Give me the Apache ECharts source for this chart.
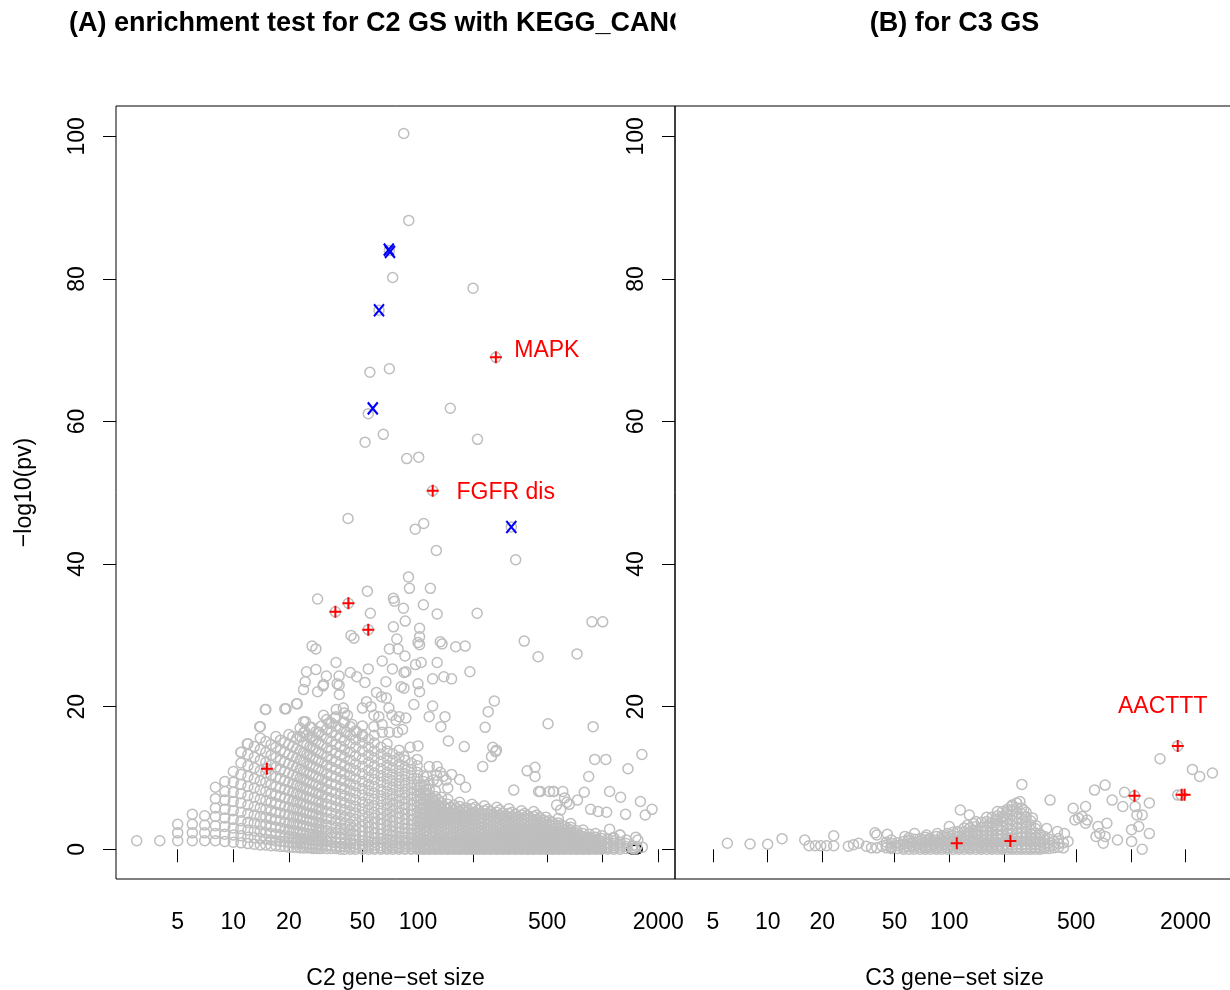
<!DOCTYPE html>
<html><head><meta charset="utf-8">
<script src="https://cdn.jsdelivr.net/npm/echarts@6/dist/echarts.min.js"></script>
<style>html,body{margin:0;padding:0;background:#fff}#c{width:1230px;height:990px}</style>
</head><body><div id="c"></div>
<script>
// ---------- data ----------
const xTicks = [5, 10, 20, 50, 100, 200, 500, 1000, 2000];
const xTickLabels = [5, 10, 20, 50, 100, 500, 2000];
const yTicks = [0, 20, 40, 60, 80, 100];
const titleA = '(A) enrichment test for C2 GS with KEGG_CANCER';
const titleB = '(B) for C3 GS';
const xNameA = 'C2 gene\u2212set size';
const xNameB = 'C3 gene\u2212set size';
const yName = '\u2212log10(pv)';
const labelTexts = ['MAPK', 'FGFR dis', 'AACTTT'];

// C2 gene sets: [set size, [-log10 pv values at that size]]
const c2Columns = [
[3,[1.2]],[4,[1.2]],
[5,[1.2,2.3,3.5]],
[6,[1.2,2.3,3.5,4.9]],
[7,[1.2,2.3,3.4,4.7]],
[8,[1.2,2.2,3.3,4.6,5.8,7.1,8.7]],
[9,[1.1,2.1,3.2,4.4,5.6,6.9,8.1,9.5]],
[10,[1.0,2.0,3.0,4.2,5.4,6.7,8.0,9.4,10.9]],
[11,[0.9,1.9,2.9,4.0,5.2,6.5,7.8,9.1,10.5,12.1,13.6]],
[12,[0.8,1.7,2.7,3.8,5.0,6.2,7.5,8.8,10.2,11.7,13.3,14.8]],
[13,[0.7,1.6,2.6,3.7,4.8,6.0,7.3,8.6,9.9,11.4,12.9,14.4]],
[14,[0.6,1.5,2.5,3.5,4.6,5.8,7.0,8.3,9.6,11.0,12.5,14.0,15.6,17.2]],
[15,[0.6,1.4,2.3,3.4,4.5,5.6,6.8,8.1,9.4,10.7,12.2,13.6,15.1,19.6]],
[16,[0.5,1.3,2.2,3.2,4.3,5.4,6.6,7.8,9.1,10.4,11.8,13.2,14.7]],
[17,[0.5,1.2,2.1,3.1,4.1,5.2,6.4,7.6,8.8,10.1,11.5,12.9,14.3,15.8]],
[18,[0.4,1.1,2.0,3.0,4.0,5.1,6.2,7.4,8.6,9.9,11.2,12.5,13.9,15.3]],
[19,[0.4,1.1,1.9,2.8,3.8,4.9,6.0,7.2,8.4,9.6,10.9,12.2,13.6,15.0,19.7]],
[20,[0.3,1.0,1.8,2.7,3.7,4.8,5.9,7.0,8.2,9.4,10.7,12.0,13.3,14.7,16.1]],
[21,[0.3,0.9,1.7,2.6,3.6,4.6,5.7,6.8,8.0,9.2,10.4,11.7,13.0,14.4,15.8]],
[22,[0.3,0.9,1.6,2.5,3.5,4.5,5.6,6.7,7.8,9.0,10.2,11.5,12.8,14.1,15.5,20.4]],
[23,[0.2,0.8,1.5,2.4,3.4,4.4,5.4,6.5,7.6,8.8,10.0,11.2,12.5,13.8,15.8,17.0]],
[24,[0.2,0.8,1.5,2.3,3.3,4.3,5.3,6.4,7.5,8.6,9.8,11.0,12.3,13.6,14.9,16.3,17.9]],
[25,[0.2,0.7,1.4,2.2,3.2,4.1,5.1,6.2,7.3,8.4,9.6,10.8,12.0,13.3,14.6,16.0]],
[26,[0.2,0.7,1.3,2.1,3.0,4.0,5.0,6.0,7.1,8.2,9.4,10.6,11.8,13.1,14.4,15.7,17.1]],
[27,[0.1,0.6,1.3,2.1,2.9,3.9,4.9,5.9,7.0,8.1,9.2,10.4,11.6,12.8,14.1,15.4]],
[28,[0.1,0.6,1.2,2.0,2.9,3.8,4.8,5.8,6.8,7.9,9.0,10.2,11.4,12.6,13.9,15.2,16.5]],
[29,[0.1,0.6,1.2,1.9,2.8,3.7,4.6,5.6,6.7,7.8,8.9,10.0,11.2,12.4,13.6,14.9,16.4]],
[30,[0.1,0.5,1.1,1.9,2.7,3.6,4.5,5.5,6.5,7.6,8.7,9.8,11.0,12.2,13.4,14.7,16.0,17.3]],
[32,[0.1,0.5,1.1,1.8,2.6,3.4,4.3,5.3,6.3,7.3,8.4,9.5,10.6,11.8,13.0,14.2,15.5,16.8,18.2]],
[34,[0.1,0.5,1.0,1.7,2.4,3.3,4.2,5.1,6.1,7.1,8.1,9.2,10.3,11.5,12.6,13.9,15.1,16.4,17.7]],
[36,[0.1,0.4,0.9,1.6,2.3,3.1,4.0,4.9,5.9,6.9,7.9,9.0,10.1,11.2,12.3,13.5,14.7,16.0,17.3,18.6]],
[38,[0.0,0.4,0.9,1.5,2.2,3.0,3.9,4.8,5.7,6.7,7.7,8.7,9.8,10.9,12.0,13.2,14.4,15.6,16.9]],
[40,[0.0,0.4,0.8,1.4,2.1,2.9,3.7,4.6,5.5,6.5,7.5,8.5,9.6,10.6,11.7,12.9,14.0,15.2,16.5,17.8,19.1]],
[43,[0.0,0.3,0.8,1.3,2.0,2.7,3.5,4.4,5.3,6.2,7.2,8.2,9.2,10.3,11.4,12.5,13.6,14.8,16.0,17.2]],
[46,[0.0,0.3,0.7,1.3,1.9,2.6,3.4,4.2,5.1,6.0,6.9,7.9,8.9,9.9,11.0,12.0,13.1,14.3,15.4,16.6]],
[50,[0.0,0.3,0.7,1.2,1.8,2.5,3.2,4.0,4.8,5.7,6.6,7.6,8.5,9.5,10.6,11.6,12.7,13.8,14.9,16.1,17.3]],
[54,[0.0,0.3,0.6,1.1,1.7,2.4,3.1,3.8,4.6,5.5,6.3,7.2,8.2,9.1,10.1,11.1,12.2,13.2,14.3,15.4]],
[58,[0.0,0.2,0.6,1.0,1.6,2.2,2.9,3.7,4.4,5.2,6.1,7.0,7.9,8.8,9.8,10.7,11.7,12.8,13.8,14.9,16.0]],
[63,[0.0,0.2,0.5,1.0,1.5,2.1,2.8,3.5,4.2,5.0,5.8,6.7,7.5,8.4,9.4,10.3,11.3,12.3,13.3,14.3]],
[68,[0.0,0.2,0.5,0.9,1.4,2.0,2.6,3.3,4.0,4.8,5.6,6.4,7.2,8.1,9.0,9.9,10.8,11.8,12.8,13.8,14.8]],
[73,[0.0,0.2,0.5,0.9,1.3,1.9,2.5,3.2,3.9,4.6,5.4,6.2,7.0,7.8,8.7,9.6,10.5,11.4,12.4,13.4]],
[79,[0.0,0.2,0.4,0.8,1.3,1.8,2.4,3.0,3.7,4.4,5.1,5.9,6.7,7.5,8.3,9.2,10.1,11.0,11.9,12.9,13.9]],
[85,[0.0,0.1,0.4,0.8,1.2,1.7,2.3,2.9,3.5,4.2,4.9,5.7,6.4,7.2,8.0,8.9,9.7,10.6,11.5,12.5]],
[92,[0.0,0.1,0.4,0.7,1.1,1.6,2.2,2.8,3.4,4.1,4.8,5.5,6.2,7.0,7.8,8.6,9.4,10.3,11.2,12.1]],
[99,[0.0,0.1,0.3,0.7,1.1,1.5,2.1,2.6,3.2,3.9,4.5,5.2,5.9,6.7,7.4,8.2,9.0,9.9,10.8,11.7,12.6]],
[103,[0.05,0.2,0.5,0.85,1.3,1.75,2.3,2.85,3.5,4.2,4.9,5.6,6.3,7.1,7.9,8.8]],
[107,[0.0,0.1,0.3,0.6,1.0,1.5,2.0,2.5,3.1,3.7,4.3,5.0,5.7,6.4,7.1,7.9,8.7,9.5,10.3]],
[111,[0.05,0.2,0.45,0.8,1.2,1.7,2.2,2.7,3.3,4.0,4.6,5.3,6.0,6.8,7.6,8.4]],
[115,[0.0,0.1,0.3,0.6,1.0,1.4,1.9,2.4,3.0,3.6,4.2,4.8,5.5,6.2,6.9,7.6,8.4,9.2]],
[120,[0.05,0.2,0.45,0.75,1.15,1.6,2.1,2.6,3.2,3.8,4.4,5.1,5.8,6.5,7.2]],
[124,[0.0,0.1,0.3,0.6,0.9,1.3,1.8,2.3,2.9,3.4,4.0,4.7,5.3,6.0,6.7,7.4,8.2]],
[129,[0.05,0.2,0.4,0.7,1.1,1.5,2.0,2.5,3.0,3.6,4.2,4.8,5.5,6.2,6.9]],
[134,[0.0,0.1,0.3,0.5,0.9,1.3,1.7,2.2,2.7,3.3,3.9,4.5,5.1,5.8,6.5,7.3]],
[139,[0.05,0.2,0.4,0.7,1.05,1.45,1.9,2.4,2.9,3.5,4.1,4.7,5.3,6.0]],
[145,[0.0,0.1,0.2,0.5,0.8,1.2,1.7,2.2,2.7,3.2,3.8,4.4,5.0,5.6,6.3,7.0]],
[150,[0.05,0.15,0.35,0.65,1.0,1.4,1.85,2.35,2.85,3.4,4.0,4.6,5.2,5.9]],
[156,[0.0,0.1,0.2,0.5,0.8,1.2,1.6,2.1,2.6,3.1,3.7,4.2,4.8,5.5,6.2]],
[162,[0.05,0.15,0.35,0.65,1.0,1.35,1.8,2.3,2.8,3.3,3.9,4.5,5.1,5.7]],
[168,[0.0,0.1,0.2,0.5,0.8,1.1,1.5,2.0,2.5,3.0,3.5,4.1,4.7,5.3,6.0,6.6]],
[175,[0.05,0.15,0.35,0.6,0.95,1.3,1.75,2.2,2.7,3.2,3.8,4.3,4.9,5.6]],
[182,[0.0,0.1,0.2,0.4,0.7,1.1,1.5,1.9,2.4,2.9,3.4,4.0,4.6,5.2,5.8]],
[189,[0.05,0.15,0.35,0.6,0.9,1.3,1.7,2.15,2.6,3.15,3.7,4.2,4.8,5.4]],
[196,[0.0,0.1,0.2,0.4,0.7,1.0,1.4,1.9,2.3,2.8,3.3,3.9,4.4,5.0,5.7,6.3]],
[204,[0.05,0.15,0.3,0.55,0.85,1.2,1.6,2.05,2.55,3.05,3.6,4.1,4.65,5.2,5.9]],
[212,[0.0,0.1,0.2,0.4,0.7,1.0,1.4,1.8,2.3,2.8,3.3,3.8,4.3,4.9,5.5]],
[220,[0.05,0.15,0.3,0.55,0.85,1.2,1.6,2.0,2.5,3.0,3.5,4.0,4.55,5.1]],
[229,[0.0,0.1,0.2,0.4,0.7,1.0,1.3,1.7,2.2,2.7,3.2,3.7,4.2,4.8,5.4,6.1]],
[238,[0.05,0.15,0.3,0.55,0.8,1.15,1.5,1.95,2.4,2.85,3.35,3.85,4.4,5.0,5.6]],
[247,[0.0,0.1,0.2,0.4,0.6,0.9,1.3,1.7,2.1,2.6,3.1,3.6,4.1,4.7,5.3]],
[257,[0.05,0.15,0.3,0.5,0.8,1.1,1.5,1.9,2.3,2.8,3.25,3.75,4.3,4.9]],
[267,[0.0,0.1,0.2,0.4,0.6,0.9,1.3,1.7,2.1,2.5,3.0,3.5,4.0,4.6,5.2,5.9]],
[277,[0.05,0.15,0.3,0.5,0.75,1.1,1.45,1.85,2.25,2.7,3.2,3.7,4.2,4.8,5.5]],
[288,[0.0,0.1,0.2,0.3,0.6,0.9,1.2,1.6,2.0,2.5,2.9,3.4,3.9,4.5,5.1]],
[299,[0.05,0.15,0.3,0.5,0.75,1.05,1.4,1.8,2.2,2.65,3.15,3.6,4.15,4.7]],
[311,[0.0,0.1,0.2,0.3,0.6,0.9,1.2,1.6,2.0,2.4,2.9,3.4,3.9,4.4,5.0,5.7]],
[323,[0.05,0.15,0.3,0.5,0.75,1.05,1.4,1.75,2.15,2.6,3.05,3.55,4.05,4.6,5.2]],
[336,[0.0,0.1,0.2,0.3,0.6,0.8,1.2,1.5,1.9,2.4,2.8,3.3,3.8,4.3,4.9]],
[349,[0.05,0.15,0.3,0.45,0.7,1.0,1.35,1.7,2.1,2.55,3.0,3.45,3.95,4.5]],
[363,[0.0,0.1,0.2,0.3,0.5,0.8,1.1,1.5,1.9,2.3,2.8,3.2,3.7,4.2,4.8,5.4]],
[377,[0.05,0.15,0.3,0.45,0.7,1.0,1.3,1.7,2.1,2.5,2.95,3.4,3.9,4.45,5.0]],
[392,[0.0,0.1,0.2,0.3,0.5,0.8,1.1,1.5,1.8,2.3,2.7,3.1,3.6,4.1,4.7]],
[407,[0.05,0.15,0.3,0.45,0.7,0.95,1.3,1.65,2.05,2.45,2.9,3.35,3.8,4.35]],
[423,[0.0,0.1,0.2,0.3,0.5,0.8,1.1,1.4,1.8,2.2,2.6,3.1,3.5,4.0,4.6,5.3]],
[440,[0.05,0.15,0.3,0.45,0.65,0.95,1.25,1.6,2.0,2.4,2.8,3.25,3.7,4.2,4.8]],
[457,[0.0,0.1,0.2,0.3,0.5,0.8,1.0,1.4,1.7,2.1,2.5,3.0,3.4,3.9,4.4]],
[475,[0.05,0.15,0.3,0.45,0.65,0.9,1.2,1.55,1.9,2.3,2.7,3.15,3.6,4.1]],
[493,[0.0,0.1,0.2,0.3,0.5,0.7,1.0,1.3,1.7,2.1,2.5,2.9,3.4,3.9,4.5]],
[513,[0.05,0.15,0.3,0.45,0.65,0.9,1.2,1.5,1.85,2.2,2.6,3.05,3.5,4.0]],
[533,[0.0,0.1,0.2,0.3,0.5,0.7,1.0,1.3,1.6,2.0,2.4,2.8,3.3,3.8]],
[554,[0.05,0.15,0.3,0.45,0.65,0.9,1.15,1.45,1.8,2.2,2.6,3.0,3.45]],
[575,[0.0,0.1,0.2,0.3,0.5,0.7,1.0,1.3,1.6,2.0,2.4,2.8,3.2,3.7,4.3]],
[598,[0.05,0.15,0.3,0.45,0.65,0.85,1.1,1.4,1.75,2.15,2.5,2.9,3.4]],
[621,[0.0,0.1,0.2,0.3,0.5,0.7,0.9,1.2,1.6,1.9,2.3,2.7,3.2]],
[646,[0.05,0.15,0.3,0.45,0.65,0.85,1.1,1.4,1.7,2.1,2.5,2.9]],
[671,[0.0,0.1,0.2,0.3,0.5,0.7,0.9,1.2,1.5,1.9,2.3,2.7,3.1,3.6]],
[698,[0.05,0.15,0.3,0.45,0.6,0.8,1.05,1.35,1.65,2.0,2.4]],
[725,[0.0,0.1,0.2,0.3,0.5,0.7,0.9,1.2,1.5,1.8,2.2,2.6]],
[754,[0.05,0.15,0.3,0.45,0.65,0.9,1.2,1.5,1.9]],
[783,[0.0,0.1,0.2,0.4,0.6,0.8,1.1,1.4,1.8,2.2,2.7]],
[814,[0.05,0.15,0.3,0.5,0.7,0.95,1.25,1.6]],
[845,[0.0,0.1,0.2,0.4,0.6,0.8,1.1,1.4,1.7,2.1]],
[879,[0.05,0.2,0.4,0.6,0.85,1.15,1.5]],
[913,[0.0,0.1,0.3,0.5,0.7,1.0,1.3,1.7,2.2]],
[949,[0.05,0.2,0.4,0.65,0.95,1.3]],
[986,[0.0,0.1,0.3,0.5,0.8,1.1,1.5,1.9]],
[1065,[0.0,0.2,0.4,0.7,1.0,1.4]],
[1150,[0.0,0.2,0.5,0.8,1.2,1.6]],
[1240,[0.0,0.3,0.6,1.0,2.0]],
[1340,[0.1,0.4,0.8,1.3]],
[1450,[0.1,0.5]]
];

// C2 scattered gene sets: [set size, -log10 pv]
const c2Points = [
[83.7,100.4],[89.1,88.2],[70,84],[72.9,80.2],[198.6,78.7],[61.5,75.6],[264,69],[54.9,66.9],[70,67.4],[53.8,61.1],
[149.6,61.85],[64.9,58.2],[51.7,57.1],[210,57.5],[86.9,54.8],[100.9,55],[120.1,50.3],[320,45.2],[41.8,46.4],[96.6,44.9],
[107.4,45.7],[125.7,41.9],[338,40.6],
[88.8,38.2],[89.9,36.6],[116.7,36.6],[53.2,36.2],[28.6,35.1],[73.6,35.2],[74.5,34.8],[42,34.5],[35.7,33.3],[83.4,33.8],
[107,34.3],[55.2,33.1],[127,33],[209,33.1],[85.3,32],[875,31.9],[1000,31.9],[53.8,30.8],[73.6,31.2],[43.4,30],[45,29.6],
[102,31],[102,29.8],[76.8,29.5],[100,29],[102,28.7],[132,29.1],[135,28.8],[160,28.4],[180,28.5],[376,29.2],[26.7,28.5],
[28,28.1],[70,28.1],[78,28.1],[85,27.1],[447,27],[726,27.4],[36,26.2],[64,26.4],[97,25.9],[104,26.2],[127,26.2],
[24.9,24.9],[28,25.2],[37.4,24.3],[43,24.8],[46.6,24.2],[51.6,23.4],[53.8,25.3],[67,23.5],[72.7,25.3],[84,24.8],[86,24.9],
[100,23.2],[191,24.9],[24.5,23.5],[24,22.4],[28.6,22.1],[30.6,22.9],[36.5,23.2],[37.5,21.7],[259,20.8],[240,19.3],
[14.9,19.6],[19.3,19.7],[22.2,20.4],
[31.9,24.3],[30.8,23.1],[37.4,23],[81,22.8],[84,22.6],[102,22.1],[59.6,22],[63.4,21.4],[67.4,21.2],
[52.6,20.7],[50,19.8],[55.7,20],[57.7,18.8],[61.4,18.6],[69.6,19.8],[72.3,18.8],[76,18.1],[79,18.6],[86,18.4],
[36.1,19.6],[39.4,19.8],[41.5,18.8],[35.5,18.4],[33,17.7],[30.8,18.8],
[24.6,17.9],[24.4,16.5],[23,15.8],[26.5,17.1],[26.7,15.8],[29,16.4],[39.4,17.8],[44,17.5],[41,16.4],[46.6,16.4],
[50,15.8],[57.7,17.2],[64,17.5],[64,16.4],[70,16.4],[77.6,16.4],[82.5,16.8],
[231,17.1],[506,17.6],[887,17.2],[146,15.2],[178,14.4],[133,17.2],[140,18.6],[115,18.6],[120,20.1],[95,20.3],
[152,23.9],[138,24.2],[120,23.9],[263,13.7],[250,13],[224,11.6],[390,11],[430,11.5],[430,10.2],[460,8.1],[450,8.1],
[905,12.6],[1040,12.6],[840,10.2],[1370,11.3],[1630,13.3],[1090,8.1],[795,8],[1250,7.3],[1600,6.7],[1850,5.6],
[1700,4.8],[1330,4.9],[860,5.6],[945,5.3],[1050,5.2],[730,6.9],[660,6.3],[330,8.3],[115,11.6],[127,11.6],[132,10.8],
[127,9.5],[112,10.2],[152,10.5],[168,9.8],[181,8.7],[100,14.5],[90.6,14.3],[84,13],[254,14.3],[266,13.9],
[1090,2.8],[1240,2],[1510,1.7],[1530,0.4],[13.9,17.2],[11.9,14.8],[11,13.6],[15.2,11.3],
[121,9.7],[126,10.4],[137,10.2],[142,9.7],[145,8.6],[515,8.1],[540,8.1],[543,8.1],[608,8.1],[622,7.2],[640,6.6],
[592,5.5],[563,6.2],[1140,1.6],[1550,1.3],[1640,0.3],[1490,0.05]
];
// highlighted C2 sets
const c2Red = [[264,69],[120.1,50.3],[42,34.5],[35.7,33.3],[53.8,30.8],[15.2,11.3]];
const c2Blue = [[69.5,84.1],[70.5,83.8],[61.5,75.6],[56.9,61.85],[320,45.2]];

// C3 gene sets
const c3Columns = [
[45,[0.2,0.6,1.0]],[48,[0.1,0.4,0.8,1.3]],[52,[0.1,0.5,0.9]],[56,[0.0,0.3,0.7,1.1]],
[60,[0.0,0.4,0.8,1.2,1.6]],[64,[0.0,0.3,0.6,1.0,1.4]],[69,[0.0,0.3,0.7,1.1,1.5]],
[74,[0.0,0.2,0.5,0.9,1.3,1.7]],[79,[0.0,0.3,0.6,1.0,1.4]],[85,[0.0,0.2,0.5,0.9,1.3,1.8]],
[91,[0.0,0.3,0.6,1.0,1.4,1.9]],[98,[0.0,0.2,0.5,0.9,1.3,1.7,2.2]],[105,[0.0,0.3,0.6,1.0,1.4,1.9,2.4]],
[113,[0.0,0.2,0.5,0.9,1.3,1.8,2.3]],[121,[0.0,0.3,0.6,1.0,1.4,1.9,2.5,3.0]],[130,[0.0,0.2,0.5,0.9,1.3,1.8,2.4,3.0]],
[140,[0.0,0.3,0.6,1.0,1.5,2.0,2.6,3.2,3.9]],[150,[0.0,0.2,0.5,0.9,1.4,1.9,2.5,3.1,3.8]],
[161,[0.0,0.3,0.6,1.0,1.5,2.0,2.6,3.2,3.9,4.5]],[172,[0.0,0.2,0.5,0.9,1.4,1.9,2.5,3.1,3.8,4.5]],
[184,[0.0,0.3,0.6,1.0,1.5,2.1,2.7,3.3,4.0,4.7,5.3]],[196,[0.0,0.2,0.5,1.0,1.5,2.0,2.6,3.2,3.9,4.6,5.3]],
[209,[0.0,0.3,0.6,1.1,1.6,2.2,2.8,3.5,4.2,4.9,5.6]],[222,[0.0,0.2,0.6,1.0,1.5,2.1,2.7,3.4,4.1,4.8,5.5,6.2]],
[236,[0.0,0.3,0.7,1.2,1.7,2.3,3.0,3.7,4.4,5.1,5.8]],[250,[0.0,0.2,0.6,1.1,1.6,2.2,2.9,3.6,4.3,5.0,5.8]],
[265,[0.0,0.3,0.7,1.2,1.8,2.4,3.1,3.8,4.5,5.2]],[281,[0.0,0.2,0.6,1.0,1.5,2.1,2.7,3.4,4.0]],
[298,[0.0,0.3,0.7,1.2,1.7,2.3,2.9]],[316,[0.0,0.2,0.6,1.0,1.5,2.0]],[335,[0.1,0.4,0.8,1.3,1.8]],
[355,[0.1,0.5,0.9,1.4]],[376,[0.2,0.6,1.1]],[400,[0.3,0.8,1.5]],[425,[0.2,0.9]]
];
const c3Points = [
[6,0.84],[8,0.74],[10,0.7],[12,1.49],[16,1.3],[16.9,0.5],[18.3,0.5],[19.6,0.5],[21.1,0.5],[23.1,0.5],[23.1,1.9],
[27.8,0.42],[29.7,0.65],[31.7,0.84],[34.9,0.42],[37.3,0.2],[39.9,0.2],[39,2.3],[39.9,2.0],[45.6,2.1],[42.7,0.42],
[47.8,0.2],[54.5,0.65],[57,1.8],[59.6,1.3],
[64.4,2.2],[75,2.0],[78.3,1.55],[86,2.2],[93.5,1.77],[100,3.2],[111,2.5],[115,5.5],[129,4.8],[126,3.4],[136,3.6],
[140,2.2],[168,3.6],[180,4.1],[183,3.2],[201,4.6],[210,5.3],[220,6.0],[235,6.5],[245,6.7],[251,9.1],[257,5.5],
[263,4.6],[287,4.4],[301,3.3],[314,2.2],[344,2.9],[359,6.9],[394,2.5],[431,2.2],[451,1.1],[481,5.75],[492,4.1],
[515,4.35],[539,4.6],[563,6.0],[575,4.1],[563,3.65],[631,8.3],[643,1.8],[659,3.2],[674,2.2],[705,0.84],[721,9.0],
[721,1.8],[738,3.65],[789,6.9],[844,1.3],[903,6.0],[923,8.0],[1009,2.75],[1009,1.1],[1056,6.0],[1080,4.8],
[1105,3.2],[1155,4.8],[1155,0.0],[1264,6.5],[1264,2.2],[1447,12.7],[1812,14.5],[1812,7.6],[1893,7.6],[2183,11.2],
[2392,10.2],[2812,10.7],[1047,7.5],[110,0.84],[217,1.16]
];
const c3Red = [[1812,14.5],[1047,7.5],[1905,7.65],[1976,7.65],[110,0.84],[217,1.16]];

// ---------- chart ----------
const FONT = '"Liberation Sans", Arial, Helvetica, sans-serif';
const chart = echarts.init(document.getElementById('c'), null, {renderer: 'canvas', width: 1230, height: 990});

function flatten(cols, pts) {
  const out = [];
  cols.forEach(function (c) { c[1].forEach(function (v) { out.push([c[0], v]); }); });
  pts.forEach(function (p) { out.push(p); });
  return out;
}
const grey = {color: 'rgba(0,0,0,0)', borderColor: '#bebebe', borderWidth: 1.5, opacity: 1};
const PLUS = 'path://M5,0L5,10M0,5L10,5';
const XMARK = 'path://M0,0L10,12M10,0L0,12';
const txt = {color: '#000', fontSize: 23, fontFamily: FONT};

function xAxis(gi, min, max, name) {
  return {
    gridIndex: gi, type: 'log', logBase: 10, min: min, max: max,
    axisLine: {show: false}, splitLine: {show: false}, minorTick: {show: false},
    axisTick: {show: true, length: 13, customValues: xTicks, lineStyle: {color: '#000', width: 1}},
    axisLabel: {show: true, customValues: xTickLabels, margin: 32, color: '#000', fontSize: 23, fontFamily: FONT,
      formatter: function (v) { return String(Math.round(v)); }},
    name: name, nameLocation: 'middle', nameGap: 88, nameTextStyle: txt
  };
}
function yAxis(gi, name) {
  const a = {
    gridIndex: gi, type: 'value', min: -4.17, max: 104.25,
    axisLine: {show: false}, splitLine: {show: false},
    axisTick: {show: true, length: 13, customValues: yTicks, lineStyle: {color: '#000', width: 1}},
    axisLabel: {show: true, customValues: yTicks, rotate: 90, margin: 27, color: '#000', fontSize: 23, fontFamily: FONT}
  };
  if (name) { a.name = name; a.nameLocation = 'middle'; a.nameGap = 80; a.nameTextStyle = txt; }
  return a;
}
function lbl(text, off) {
  return {show: true, formatter: text, position: 'inside', offset: off, color: '#ff0000', fontSize: 23, fontFamily: FONT};
}

const redA = c2Red.map(function (p, i) {
  if (i === 0) return {value: p, label: lbl(labelTexts[0], [51, -7])};
  if (i === 1) return {value: p, label: lbl(labelTexts[1], [73, 2])};
  return {value: p};
});
const redB = c3Red.map(function (p, i) {
  if (i === 0) return {value: p, label: lbl(labelTexts[2], [-15, -39])};
  return {value: p};
});
const redStyle = {color: 'none', borderColor: '#ff0000', borderWidth: 2, opacity: 1};
const blueStyle = {color: 'none', borderColor: '#0000ff', borderWidth: 2.2, opacity: 1};

chart.setOption({
  animation: false,
  backgroundColor: '#fff',
  textStyle: {fontFamily: FONT},
  grid: [
    {left: 116, top: 106, width: 559, height: 773, show: true, borderColor: '#000', borderWidth: 1, backgroundColor: 'transparent', containLabel: false, outerBoundsMode: 'none'},
    {left: 675, top: 106, width: 559, height: 773, show: true, borderColor: '#000', borderWidth: 1, backgroundColor: 'transparent', containLabel: false, outerBoundsMode: 'none'}
  ],
  xAxis: [xAxis(0, 2.317, 2463, xNameA), xAxis(1, 3.088, 3698, xNameB)],
  yAxis: [yAxis(0, yName), yAxis(1, null)],
  series: [
    {type: 'scatter', xAxisIndex: 0, yAxisIndex: 0, data: flatten(c2Columns, c2Points), symbol: 'circle', symbolSize: 10, itemStyle: grey, silent: true, z: 2, progressive: 0},
    {type: 'scatter', xAxisIndex: 0, yAxisIndex: 0, data: redA, symbol: PLUS, symbolSize: 12, itemStyle: redStyle, silent: true, z: 3},
    {type: 'scatter', xAxisIndex: 0, yAxisIndex: 0, data: c2Blue, symbol: XMARK, symbolSize: [10, 12], itemStyle: blueStyle, silent: true, z: 3},
    {type: 'scatter', xAxisIndex: 1, yAxisIndex: 1, data: flatten(c3Columns, c3Points), symbol: 'circle', symbolSize: 10, itemStyle: grey, silent: true, z: 2, progressive: 0},
    {type: 'scatter', xAxisIndex: 1, yAxisIndex: 1, data: redB, symbol: PLUS, symbolSize: 12, itemStyle: redStyle, silent: true, z: 3}
  ],
  graphic: [
    {type: 'text', z: 99, style: {text: titleA, x: 69, y: 24, font: 'bold 27px ' + FONT, fill: '#000', align: 'left', verticalAlign: 'middle'}},
    {type: 'rect', z: 100, shape: {x: 675.5, y: 0, width: 190, height: 60}, style: {fill: '#fff'}},
    {type: 'text', z: 101, style: {text: titleB, x: 954.5, y: 24, font: 'bold 27px ' + FONT, fill: '#000', align: 'center', verticalAlign: 'middle'}}
  ]
});
</script>
</body></html>
